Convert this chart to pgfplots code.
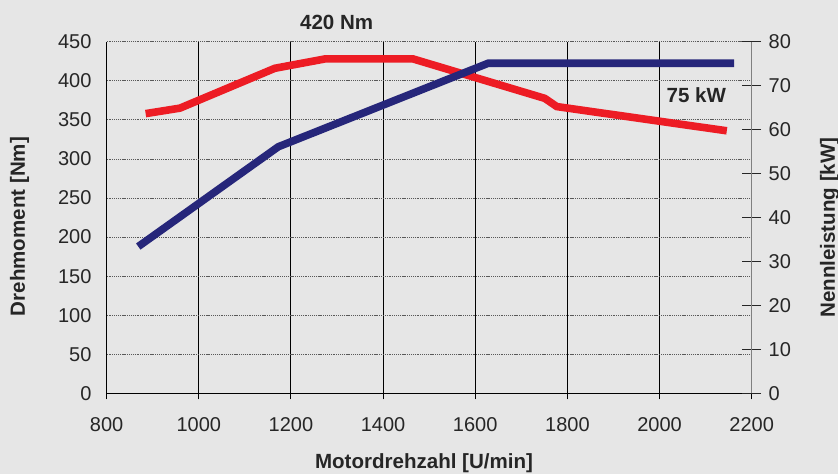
\documentclass[border=0pt]{standalone}
\usepackage{fontspec}
\setmainfont{Liberation Sans}
\usepackage{pgfplots}
\pgfplotsset{compat=1.18}
\definecolor{bg}{RGB}{230,230,230}
\definecolor{tq}{RGB}{237,28,36}
\definecolor{pw}{RGB}{38,38,122}
\begin{document}
\begin{tikzpicture}
\fill[bg] (-80pt,-60.5pt) rectangle (548.5pt,295pt);
\begin{axis}[
  at={(0pt,0pt)}, anchor=south west, scale only axis,
  width=483.75pt, height=263.7pt,
  xmin=800, xmax=2200, ymin=0, ymax=450,
  xtick={800,1000,...,2200}, ytick={0,50,...,450},
  axis x line*=bottom, axis y line*=left,
  axis line style={black, line width=0.8pt, -},
  xmajorgrids, ymajorgrids,
  x grid style={black, line width=0.75pt},
  y grid style={black!65, line width=0.6pt, dash pattern=on 0.8pt off 0.6pt},
  tick align=outside,
  xtick style={black, line width=0.75pt},
  major tick length=4.5pt,
  ytick style={draw=none},
  tick label style={font=\fontsize{15}{18}\selectfont, text=black!85},
  /pgf/number format/assume math mode=true,
  /pgf/number format/1000 sep={},
  xticklabel style={anchor=base, inner sep=0pt, yshift=-24pt},
  yticklabel style={anchor=east, inner sep=0pt, xshift=-6.75pt},
]
\addplot[tq, line width=5.7pt] coordinates {
 (884.6,358) (959,365) (1165,416) (1274,428) (1465,428) (1751,377.5) (1777,367) (2146,336)
};
\end{axis}
\begin{axis}[
  at={(0pt,0pt)}, anchor=south west, scale only axis,
  width=483.75pt, height=263.7pt,
  xmin=800, xmax=2200, ymin=0, ymax=80,
  ytick={0,10,...,80},
  axis x line=none, axis y line*=right,
  axis line style={black!50, line width=0.6pt, -},
  tick align=center, major tick length=14.25pt,
  ytick style={black!85, line width=0.75pt},
  tick label style={font=\fontsize{15}{18}\selectfont, text=black!85},
  /pgf/number format/assume math mode=true,
  yticklabel style={anchor=west, inner sep=0pt, xshift=5.4pt},
]
\addplot[pw, line width=5.7pt] coordinates {
 (868.6,33.4) (1172.5,56.1) (1628,75.1) (2162,75.1)
};
\end{axis}
\node[font=\fontsize{15.4}{18}\selectfont\bfseries, text=black!85] at (172.5pt,278.5pt) {420 Nm};
\node[font=\fontsize{15.4}{18}\selectfont\bfseries, text=black!85] at (442.2pt,223.35pt) {75 kW};
\node[font=\fontsize{15.4}{18}\selectfont\bfseries, text=black!85, anchor=base] at (238pt,-56.25pt) {Motordrehzahl [U/min]};
\node[font=\fontsize{15.4}{18}\selectfont\bfseries, text=black!85, anchor=base, rotate=90] at (-61.3pt,125.1pt) {Drehmoment [Nm]};
\node[font=\fontsize{15.4}{18}\selectfont\bfseries, text=black!85, anchor=base, rotate=90] at (546.2pt,124.35pt) {Nennleistung [kW]};
\pgfresetboundingbox
\path[use as bounding box] (-80pt,-60.5pt) rectangle (548.5pt,295pt);
\end{tikzpicture}
\end{document}
